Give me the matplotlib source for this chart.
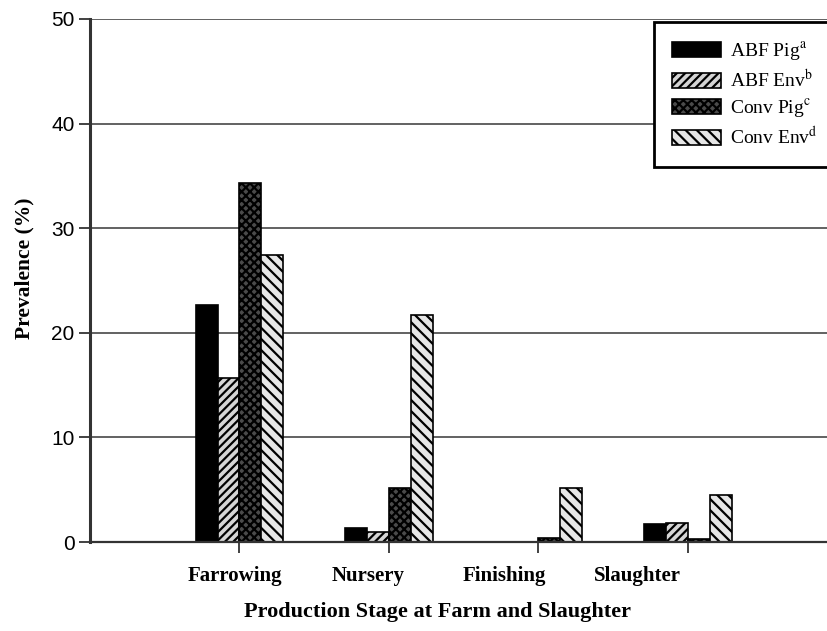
import matplotlib
matplotlib.use("Agg")
import matplotlib.pyplot as plt
import numpy as np

stages = ["Farrowing", "Nursery", "Finishing", "Slaughter"]
series_names = ["ABF Pig$^{\\mathrm{a}}$", "ABF Env$^{\\mathrm{b}}$",
                "Conv Pig$^{\\mathrm{c}}$", "Conv Env$^{\\mathrm{d}}$"]
abf_pig = [22.7, 1.3, 0.0, 1.7]
abf_env = [15.7, 1.0, 0.0, 1.8]
conv_pig = [34.3, 5.2, 0.4, 0.3]
conv_env = [27.4, 21.7, 5.2, 4.5]

plt.rcParams["mathtext.fontset"] = "stix"
plt.rcParams["hatch.linewidth"] = 1.6

fig = plt.figure(figsize=(8.27, 6.31), dpi=100)
ax = fig.add_axes([90 / 827, 1 - 542 / 631, 1 - 90 / 827, (542 - 19) / 631])

x = np.arange(1, len(stages) + 1)
w = 0.147
styles = [
    dict(color="black", hatch=None),
    dict(color="#d4d4d4", hatch="////"),
    dict(color="#4a4a4a", hatch="xxxx"),
    dict(color="#e6e6e6", hatch="\\\\\\"),
]
data = [abf_pig, abf_env, conv_pig, conv_env]
for i, (vals, st, name) in enumerate(zip(data, styles, series_names)):
    ax.bar(x + (i - 2) * w, vals, width=w, align="edge", color=st["color"],
           hatch=st["hatch"], edgecolor="black", linewidth=1.2, label=name,
           zorder=2)

ax.set_xlim(0, 4.93)
ax.set_ylim(0, 50)
ax.set_yticks([0, 10, 20, 30, 40, 50])
ax.yaxis.grid(True, color="#555555", linewidth=1.3, zorder=0)
ax.set_axisbelow(True)

for s in ["top", "right"]:
    ax.spines[s].set_visible(False)
ax.spines["left"].set_linewidth(2.2)
ax.spines["left"].set_color("#333333")
ax.spines["bottom"].set_linewidth(1.6)
ax.spines["bottom"].set_color("#333333")
ax.spines["bottom"].set_zorder(3)

ax.tick_params(axis="y", length=8, width=1.3, color="#333333", pad=3,
               labelsize=15)
for lab in ax.get_yticklabels():
    lab.set_family("Liberation Sans")

# group ticks at centers, labels slightly left (as in the original)
ax.set_xticks(x)
ax.set_xticklabels([])
ax.tick_params(axis="x", which="major", length=8, width=1.3, color="#333333")
label_pos = [0.97, 1.86, 2.77, 3.665]
ax.set_xticks(label_pos, minor=True)
ax.set_xticklabels(stages, minor=True, family="Liberation Serif",
                   fontweight="bold", fontsize=15)
ax.tick_params(axis="x", which="minor", length=0, pad=17)

fig.text(24 / 827, 1 - 268 / 631, "Prevalence (%)", family="Liberation Serif",
         fontweight="bold", fontsize=15.5, rotation=90, ha="center", va="center")
fig.text(437 / 827, 1 - 612 / 631, "Production Stage at Farm and Slaughter",
         family="Liberation Serif", fontweight="bold", fontsize=16,
         ha="center", va="center")

leg = ax.legend(loc="upper left", bbox_to_anchor=(654 / 827, 1 - 22 / 631),
                bbox_transform=fig.transFigure,
                prop={"family": "Liberation Serif", "size": 14},
                frameon=True, fancybox=False, handlelength=2.5,
                handleheight=0.8, labelspacing=0.3, borderpad=0.95,
                handletextpad=0.45, borderaxespad=0)
leg.get_frame().set_edgecolor("black")
leg.get_frame().set_linewidth(2)
leg.get_frame().set_alpha(1)

fig.savefig("out.png", dpi=100)
